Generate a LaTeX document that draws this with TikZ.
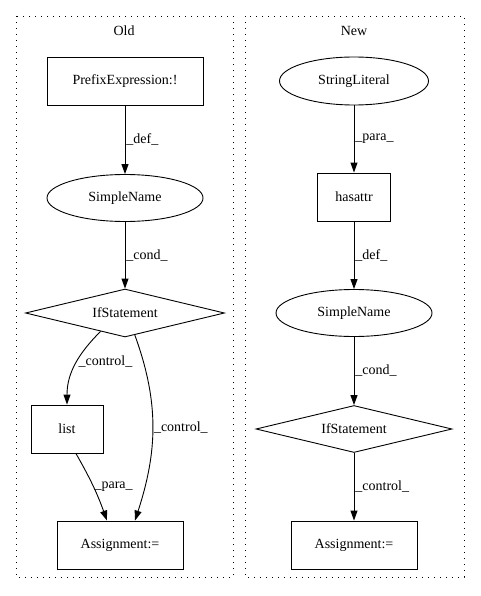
\documentclass[tikz,border=0pt]{standalone}
\usepackage{fontspec}
\setmainfont{Liberation Serif}
\usetikzlibrary{shapes.geometric, arrows.meta, calc}

\begin{document}
\begin{tikzpicture}[x=1pt, y=1pt, font=\fontsize{14}{16}\selectfont,
  box/.style={draw, rectangle, line width=0.9pt, inner sep=0pt, minimum height=48pt},
  oval/.style={draw, ellipse, line width=0.9pt, inner sep=0pt, minimum height=47pt},
  cond/.style={draw, diamond, aspect=4.1, line width=0.9pt, inner sep=0pt, minimum height=48pt},
  flow/.style={draw, line width=0.9pt, -{Triangle[length=10pt, width=7pt]}},
  elabel/.style={right, inner sep=1pt},
  cluster/.style={draw, line width=0.9pt, dash pattern=on 1.2pt off 4.8pt}]
\useasboundingbox (0,0) rectangle (480,-596);

% Clusters
\draw[cluster] (16,-16) rectangle (233,-577);
\draw[cluster] (245,-16) rectangle (464,-577);
\node (oldtitle) at (124,-31) {Old};
\node (newtitle) at (354,-31) {New};

% Old
\node[box, minimum width=156pt] (prefix) at (125,-81) {PrefixExpression:!};
\node[oval, minimum width=156pt] (oldname) at (125,-198) {SimpleName};
\node[cond, minimum width=199pt] (oldif) at (125,-313) {IfStatement};
\node[box, minimum width=72pt] (list) at (67,-429) {list};
\node[box, minimum width=126pt] (oldasg) at (120,-545) {Assignment:=};

\draw[flow] (prefix) -- node[elabel] {\_def\_} (oldname);
\draw[flow] (oldname) -- node[elabel] {\_cond\_} (oldif);
\draw[flow] (oldif.-143) to[out=225, in=90] node[elabel, pos=0.45] {\_control\_} (list.north);
\draw[flow] (oldif.-66) to[out=-70, in=72] node[elabel] {\_control\_} ($(oldasg.north)+(15,0)$);
\draw[flow] (list.-70) to[bend left=5] node[elabel] {\_para\_} (oldasg.118);

% New
\node[oval, minimum width=149pt, minimum height=48pt] (strlit) at (354,-81) {StringLiteral};
\node[box, minimum width=73pt] (hasattr) at (354,-197) {hasattr};
\node[oval, minimum width=156pt] (newname) at (354,-313) {SimpleName};
\node[cond, minimum width=196pt, minimum height=47pt] (newif) at (354,-429) {IfStatement};
\node[box, minimum width=126pt] (newasg) at (354,-545) {Assignment:=};

\draw[flow] (strlit) -- node[elabel] {\_para\_} (hasattr);
\draw[flow] (hasattr) -- node[elabel] {\_def\_} (newname);
\draw[flow] (newname) -- node[elabel] {\_cond\_} (newif);
\draw[flow] (newif) -- node[elabel] {\_control\_} (newasg);
\end{tikzpicture}
\end{document}
